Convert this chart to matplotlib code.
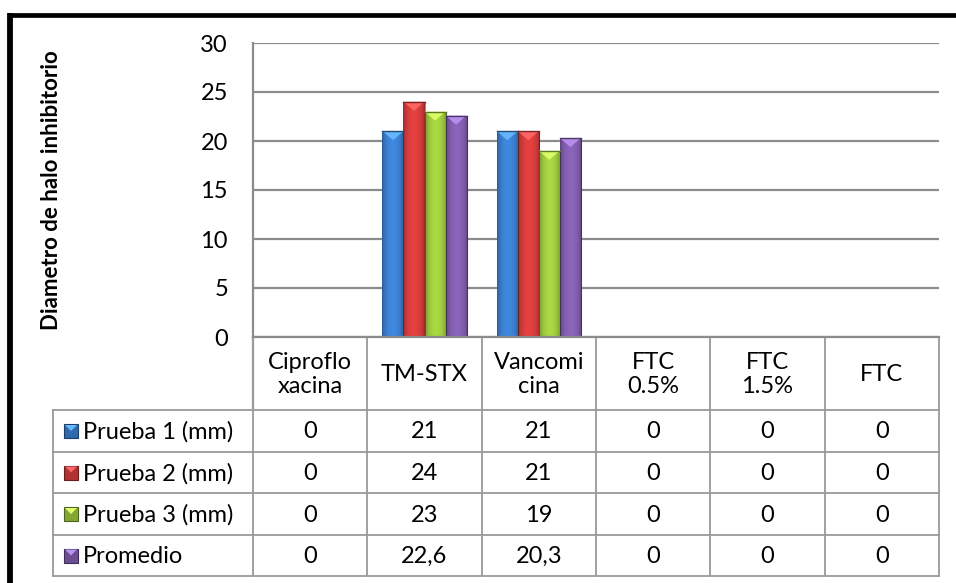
import numpy as np
import matplotlib.pyplot as plt
from matplotlib.colors import to_rgb
from matplotlib.patches import Polygon, Rectangle

# ---------------- data ----------------
categories = ["Ciproflo\nxacina", "TM-STX", "Vancomi\ncina", "FTC\n0.5%", "FTC\n1.5%", "FTC"]
series_names = ["Prueba 1 (mm)", "Prueba 2 (mm)", "Prueba 3 (mm)", "Promedio"]
prueba1 = [0, 21, 21, 0, 0, 0]
prueba2 = [0, 24, 21, 0, 0, 0]
prueba3 = [0, 23, 19, 0, 0, 0]
promedio = [0, 22.6, 20.3, 0, 0, 0]
ylabel = "Diametro de halo inhibitorio"
yticks = [0, 5, 10, 15, 20, 25, 30]

series = [prueba1, prueba2, prueba3, promedio]
colors = ["#3a7ccb", "#d13b3b", "#9bc53d", "#7e5caa"]

plt.rcParams['font.family'] = ['Lato', 'DejaVu Sans']
fsize = 17

W, H = 956, 583
fig = plt.figure(figsize=(W / 100, H / 100), dpi=100)

# plot area in pixels
px_l, px_r, px_t, px_b = 253, 939, 43, 337
ax = fig.add_axes([px_l / W, 1 - px_b / H, (px_r - px_l) / W, (px_b - px_t) / H])

n = len(categories)
ax.set_xlim(-0.5, n - 0.5)
ax.set_ylim(0, 30)
ax.set_yticks(yticks)
ax.set_xticks([])
ax.tick_params(axis='y', length=0, pad=18, labelsize=fsize)
ax.yaxis.grid(True, color="#8c8c8c", linewidth=1.6)
ax.set_axisbelow(True)
for s in ["top", "right", "bottom"]:
    ax.spines[s].set_visible(False)
ax.spines["left"].set_color("#8c8c8c")
ax.spines["left"].set_linewidth(1.6)

# bars with a bevelled look
group_w = 0.735
bw = group_w / len(series)
x = np.arange(n)
px_per_unit = (px_b - px_t) / 30.0
grad = np.linspace(0, 1, 64)
prof = 0.72 + 0.38 * np.sin(np.pi * grad) ** 0.6
for i, vals in enumerate(series):
    base = np.array(to_rgb(colors[i]))
    img = np.clip(base[None, None, :] * prof[None, :, None], 0, 1)
    pos = x - group_w / 2 + bw * (i + 0.5)
    bars = ax.bar(pos, vals, bw, color=colors[i], edgecolor="none", zorder=2)
    for b, v in zip(bars, vals):
        if v <= 0:
            continue
        x0, x1 = b.get_x(), b.get_x() + b.get_width()
        im = ax.imshow(img, extent=[x0, x1, 0, v], aspect="auto", zorder=3,
                       interpolation="bilinear")
        im.set_clip_path(b)
        ax.plot([x1, x1], [0, v], color="#222222", lw=0.8, alpha=0.5, zorder=4)
        tri_h = 9 / px_per_unit
        light = np.clip(base * 1.25 + 0.12, 0, 1)
        ax.add_patch(Polygon([[x0, v], [x1, v], [(x0 + x1) / 2, v - tri_h]],
                             closed=True, facecolor=light, edgecolor="none",
                             alpha=0.9, zorder=4))
        ax.plot([x0, x1], [v, v], color=base * 0.6, lw=1.0, zorder=5)
ax.set_xlim(-0.5, n - 0.5)
ax.set_ylim(0, 30)

ax.set_ylabel(ylabel, fontsize=16, fontweight="bold", labelpad=0)
ax.yaxis.set_label_coords((62 - px_l) / (px_r - px_l), 0.5)

# ---------------- data table (overlay in pixel units) ----------------
ov = fig.add_axes([0, 0, 1, 1])
ov.set_xlim(0, W)
ov.set_ylim(H, 0)
ov.axis("off")
ov.patch.set_alpha(0)

lc = "#9a9a9a"
cw = (px_r - px_l) / n
col_edges = [px_l + cw * k for k in range(n + 1)]
leg_l = 53
hdr_b = 410
row_edges = [hdr_b, 452, 493, 535, 576]

# header cells
ov.plot([px_l, px_l], [px_b, hdr_b], color=lc, lw=1.6)
for xe in col_edges[1:]:
    ov.plot([xe, xe], [px_b, row_edges[-1]], color=lc, lw=1.3)
ov.plot([px_l, px_r], [px_b, px_b], color="#8c8c8c", lw=1.6)
for k, cat in enumerate(categories):
    ov.text((col_edges[k] + col_edges[k + 1]) / 2, (px_b + hdr_b) / 2 + 1, cat,
            ha="center", va="center", fontsize=fsize, linespacing=1.2)

# body rows
for ye in row_edges:
    ov.plot([leg_l, px_r], [ye, ye], color=lc, lw=1.3)
ov.plot([leg_l, leg_l], [row_edges[0], row_edges[-1]], color=lc, lw=1.3)
ov.plot([px_l, px_l], [row_edges[0], row_edges[-1]], color=lc, lw=1.3)


def fmt(v):
    return ("%g" % v).replace(".", ",")


for r, (name, vals) in enumerate(zip(series_names, series)):
    yc = (row_edges[r] + row_edges[r + 1]) / 2
    base = np.array(to_rgb(colors[r]))
    kx, ks = 64, 14
    ov.add_patch(Rectangle((kx, yc - ks / 2), ks, ks, facecolor=base * 0.85,
                           edgecolor=base * 0.5, lw=0.8))
    ov.add_patch(Polygon([[kx + 1, yc - ks / 2 + 1], [kx + ks - 1, yc - ks / 2 + 1],
                          [kx + ks / 2, yc]], facecolor=np.clip(base * 1.25 + 0.12, 0, 1),
                         edgecolor="none"))
    ov.text(kx + ks + 5, yc + 1, name, ha="left", va="center", fontsize=fsize)
    for k, v in enumerate(vals):
        ov.text((col_edges[k] + col_edges[k + 1]) / 2, yc + 1, fmt(v),
                ha="center", va="center", fontsize=fsize)

# outer chart frame (only top and left visible in crop)
ov.plot([8, W + 5], [15, 15], color="black", lw=3.4, solid_capstyle="butt")
ov.plot([10.5, 10.5], [13, H + 5], color="black", lw=4.2, solid_capstyle="butt")

fig.savefig("out.png", dpi=100)
